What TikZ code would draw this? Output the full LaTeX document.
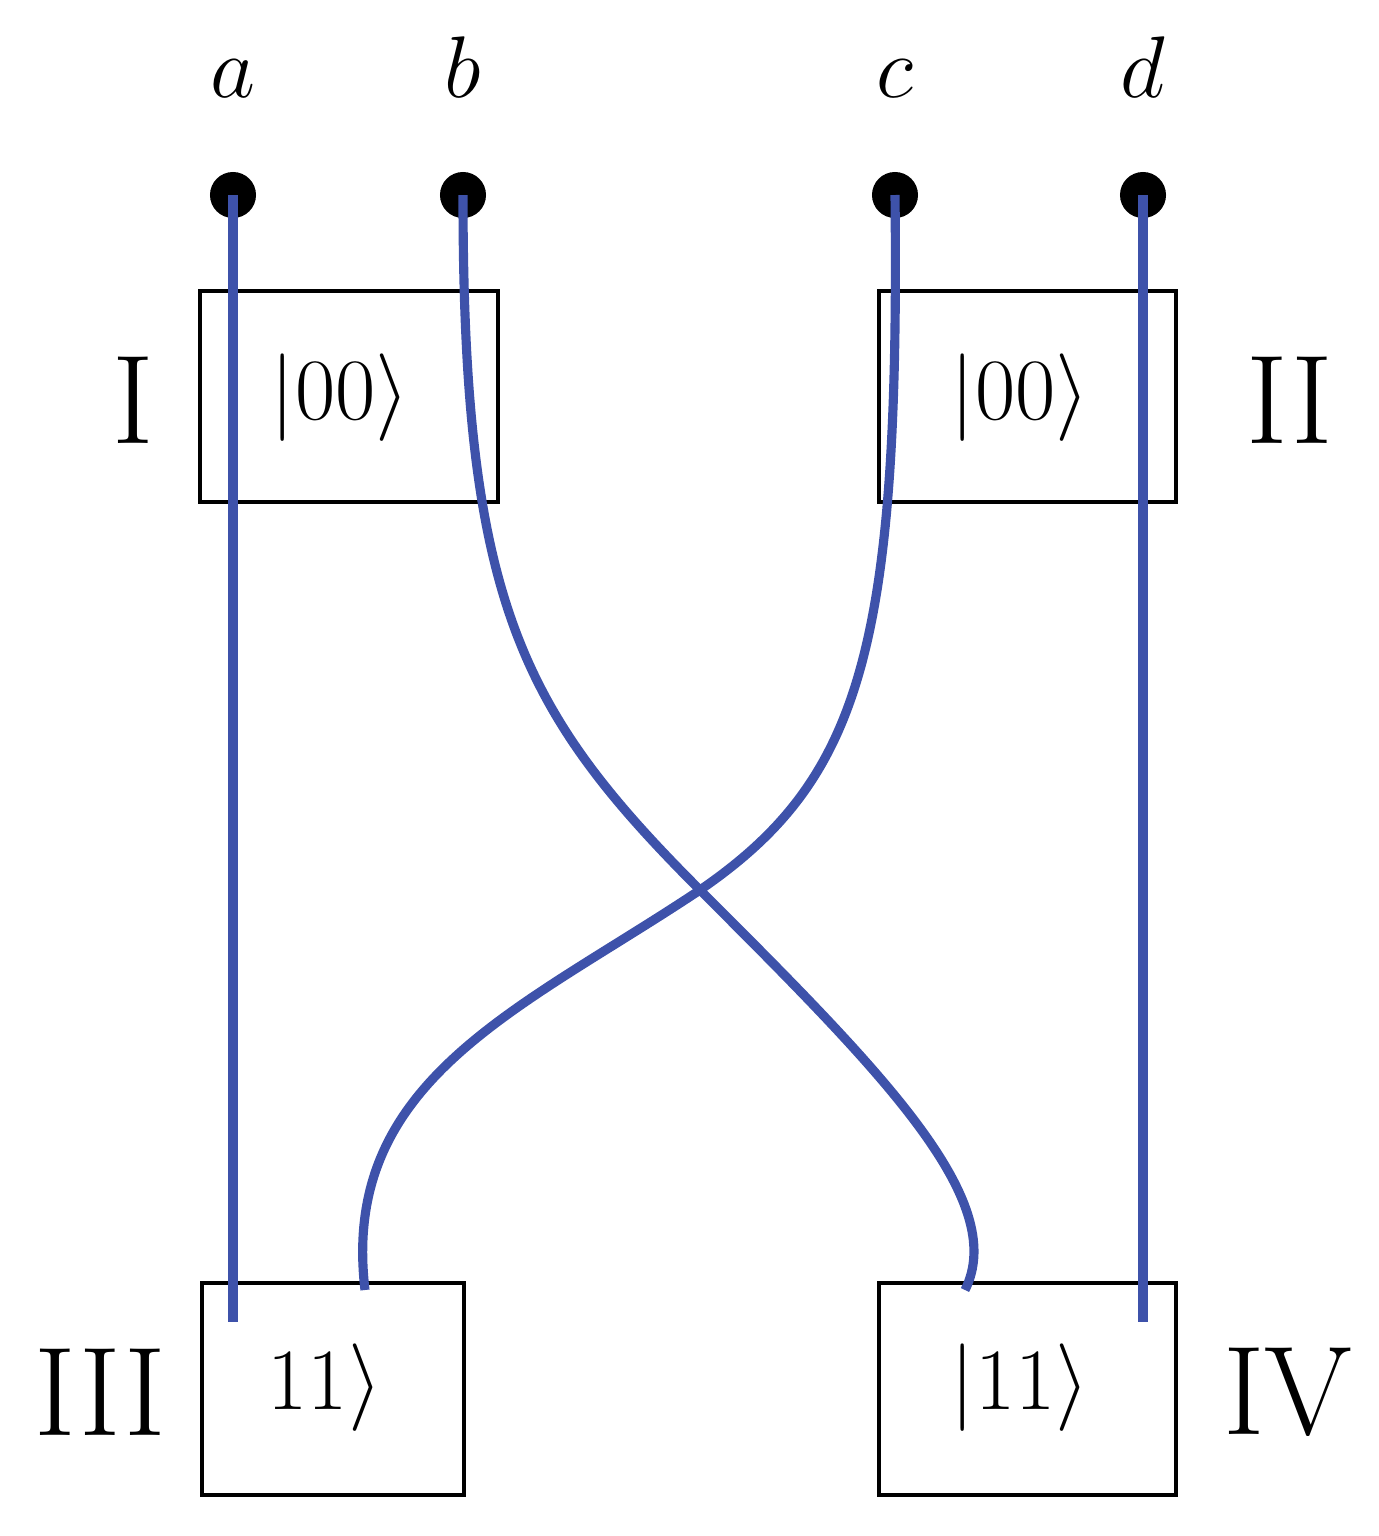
\documentclass[tikz,border=0pt]{standalone}
\definecolor{wireblue}{RGB}{62,82,170}
\begin{document}
\begin{tikzpicture}[x=0.01cm,y=-0.01cm,
  box/.style={draw,line width=1.2pt,inner sep=0pt},
  wireline/.style={draw=wireblue,line width=2.6pt},
  dot/.style={circle,fill=black,minimum size=0.46cm,inner sep=0pt},
  lbl/.style={font=\fontsize{36}{42}\selectfont},
  ket/.style={font=\fontsize{46}{52}\selectfont},
  top/.style={font=\fontsize{44}{50}\selectfont}]
\useasboundingbox (0,0) rectangle (1379,1536);
\node[box,minimum width=2.98cm,minimum height=2.11cm] (I) at (349,396.5) {};
\node[box,minimum width=2.97cm,minimum height=2.11cm] (II) at (1027.5,396.5) {};
\node[box,minimum width=2.62cm,minimum height=2.12cm] (III) at (333,1389) {};
\node[box,minimum width=2.97cm,minimum height=2.12cm] (IV) at (1027.5,1389) {};
\node[ket] (tI) at (340,398) {$|00\rangle$};
\node[ket] (tII) at (1020,398) {$|00\rangle$};
\node[ket] (tIII) at (325,1388) {$11\rangle$};
\node[ket] (tIV) at (1020,1388) {$|11\rangle$};
\node[lbl] (nI) at (133,400) {I};
\node[lbl] (nII) at (1290,400) {II};
\node[lbl] (nIII) at (100,1392) {III};
\node[lbl] (nIV) at (1288,1392) {IV};
\foreach \n/\x in {a/233,b/463,c/895,d/1143}{
  \node[dot] (\n) at (\x,195) {};
  \node[top,anchor=base] (l\n) at (\x,97) {$\n$};
}
\coordinate (ea) at (233,1322);
\coordinate (ed) at (1143,1322);
\coordinate (eb) at (965,1290);
\coordinate (ec) at (365,1290);
\draw[wireline] (a.center) -- (ea);
\draw[wireline] (d.center) -- (ed);
\draw[wireline] (b.center) .. controls (463,600) and (520,710) .. (700,890)
  .. controls (880,1070) and (1010,1200) .. (eb);
\draw[wireline] (c.center) .. controls (900,650) and (860,780) .. (700,890)
  .. controls (520,1010) and (340,1080) .. (ec);
\end{tikzpicture}
\end{document}
